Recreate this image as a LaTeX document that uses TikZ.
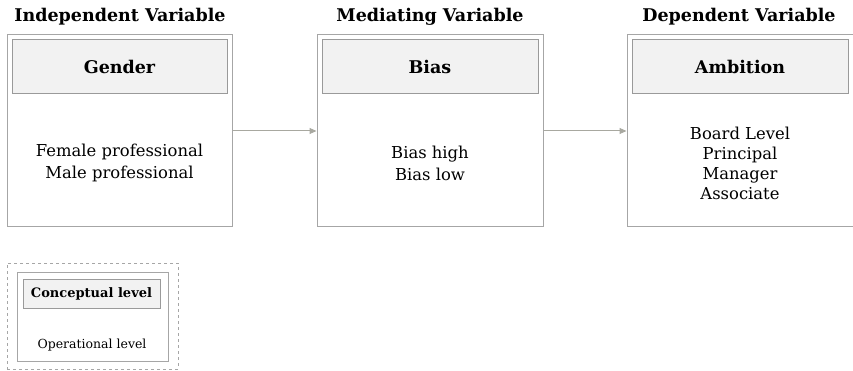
\documentclass[tikz,border=0pt]{standalone}
\usepackage{fontspec}
\setmainfont{DejaVu Serif}
\usetikzlibrary{arrows.meta}
\definecolor{boxline}{HTML}{A6A6A6}
\definecolor{hdrline}{HTML}{9A9A9A}
\definecolor{hdrfill}{HTML}{F2F2F2}
\definecolor{arrowc}{HTML}{A8A8A0}
\tikzset{
  outerbox/.style={draw=boxline, line width=1pt, rectangle, minimum width=225pt, minimum height=192pt, inner sep=0pt},
  hdrbox/.style={draw=hdrline, fill=hdrfill, line width=1pt, rectangle, minimum width=215pt, minimum height=54pt, inner sep=0pt, font=\fontsize{17.5}{20}\selectfont\bfseries},
  titletxt/.style={font=\fontsize{17.5}{20}\selectfont\bfseries, inner sep=0pt},
  bodytxt/.style={font=\fontsize{16.4}{22}\selectfont, align=center, inner sep=0pt},
  conn/.style={draw=arrowc, line width=1pt, -{Triangle[length=7pt,width=6pt]}},
}
\begin{document}
\begin{tikzpicture}[x=1pt,y=-1pt]
\useasboundingbox (0,0) rectangle (853,371);
% box 1
\node[outerbox] (b1) at (119.5,131) {};
\node[hdrbox] (h1) at (119.5,67) {Gender};
\node[titletxt] (t1) at (120,17) {Independent Variable};
\node[bodytxt] (x1) at (119.5,163) {Female professional\\Male professional};
% box 2
\node[outerbox, minimum width=226pt] (b2) at (430,131) {};
\node[hdrbox, minimum width=216pt] (h2) at (430,67) {Bias};
\node[titletxt] (t2) at (430,17) {Mediating Variable};
\node[bodytxt] (x2) at (430,163) {Bias high\\Bias low};
% box 3
\node[outerbox, minimum width=226pt] (b3) at (740,131) {};
\node[hdrbox, minimum width=216pt] (h3) at (740,67) {Ambition};
\node[titletxt] (t3) at (739,17) {Dependent Variable};
\node[bodytxt, font=\fontsize{16.4}{20}\selectfont] (x3) at (740,163) {Board Level\\Principal\\Manager\\Associate};
% arrows
\draw[conn] (b1.east) -- (b2.west);
\draw[conn] (b2.east) -- (b3.west);
% legend
\node[draw=boxline, dashed, line width=1pt, minimum width=171pt, minimum height=106pt, inner sep=0pt] (lg) at (92.5,316) {};
\node[draw=boxline, line width=1pt, minimum width=151pt, minimum height=89pt, inner sep=0pt] (li) at (92.5,316.5) {};
\node[draw=hdrline, fill=hdrfill, line width=1pt, minimum width=137pt, minimum height=29pt, inner sep=0pt, font=\fontsize{13}{15}\selectfont\bfseries] (lh) at (91.5,293.5) {Conceptual level};
\node[font=\fontsize{12.5}{15}\selectfont, inner sep=0pt] (lo) at (92,345) {Operational level};
\end{tikzpicture}
\end{document}
